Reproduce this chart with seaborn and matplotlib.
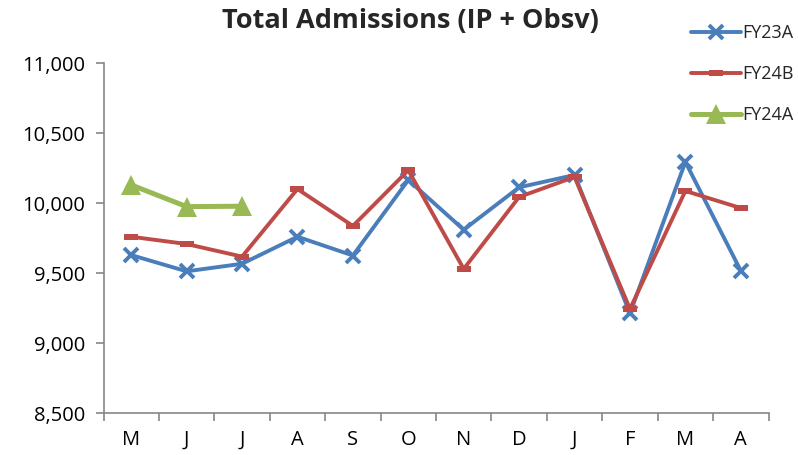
import numpy as np
import pandas as pd
import matplotlib
matplotlib.use("Agg")
import matplotlib.pyplot as plt
import seaborn as sns
from matplotlib.ticker import FuncFormatter, FixedLocator

months = ["M", "J", "J", "A", "S", "O", "N", "D", "J", "F", "M", "A"]
fy23a = [9628, 9512, 9566, 9759, 9625, 10164, 9809, 10112, 10200, 9212, 10293, 9516]
fy24b = [9759, 9707, 9617, 10100, 9836, 10234, 9529, 10043, 10186, 9243, 10086, 9964]
fy24a = [10129, 9974, 9977]
y_ticks = [8500, 9000, 9500, 10000, 10500, 11000]

sns.set_theme(style="white")
plt.rcParams['font.family'] = ['Open Sans', 'DejaVu Sans']

fig = plt.figure(figsize=(7.98, 4.55), dpi=100)
ax = fig.add_axes([103.5/798, 42/455, 665/798, 350/455])

pos = np.arange(len(months))
blue, red, green = "#4A7EBB", "#BE4B48", "#98B954"
rect = [(-1, -0.4), (1, -0.4), (1, 0.4), (-1, 0.4), (-1, -0.4)]

sns.lineplot(x=pos, y=fy23a, ax=ax, color=blue, lw=2.8, marker="x", ms=9.5,
             mew=2.8, mec=blue, label="FY23A")
sns.lineplot(x=pos, y=fy24b, ax=ax, color=red, lw=2.8, marker=rect, ms=10,
             mew=0, mfc=red, mec=red, label="FY24B")
sns.lineplot(x=pos[:len(fy24a)], y=fy24a, ax=ax, color=green, lw=3.6, marker="^",
             ms=15, mew=0, mfc=green, label="FY24A")

ax.set_xlim(-0.5, len(months) - 0.5)
ax.set_ylim(8500, 11000)
ax.set_yticks(y_ticks)
ax.yaxis.set_major_formatter(FuncFormatter(lambda v, p: f"{int(v):,}"))

ax.xaxis.set_major_locator(FixedLocator(np.arange(-0.5, len(months), 1.0)))
ax.xaxis.set_minor_locator(FixedLocator(pos))
ax.set_xticklabels([""] * (len(months) + 1))
ax.set_xticklabels(months, minor=True)
ax.tick_params(axis="x", which="major", length=6, width=1.2, color="#868686",
               direction="out", bottom=True)
ax.tick_params(axis="x", which="minor", length=0, pad=12, labelsize=14.5,
               labelcolor="black", bottom=True)
ax.tick_params(axis="y", length=6, width=1.2, color="#868686", direction="out",
               left=True, labelsize=14.5, labelcolor="black", pad=7)

for s in ["top", "right"]:
    ax.spines[s].set_visible(False)
for s in ["left", "bottom"]:
    ax.spines[s].set_color("#868686")
    ax.spines[s].set_linewidth(1.2)
ax.grid(False)
ax.set_xlabel("")
ax.set_ylabel("")

ax.get_legend().remove()
handles, labels = ax.get_legend_handles_labels()
fig.legend(handles, labels, loc="upper left", bbox_to_anchor=(691/798, 1 - 24/455),
           frameon=False, fontsize=13, borderpad=0, borderaxespad=0,
           handlelength=2.75, handletextpad=0.1, labelspacing=1.27)

fig.text(410/798, 1 - 21/455, "Total Admissions (IP + Obsv)", ha="center", va="center",
         fontsize=19.5, fontweight="bold")

fig.savefig("out.png", dpi=100)
